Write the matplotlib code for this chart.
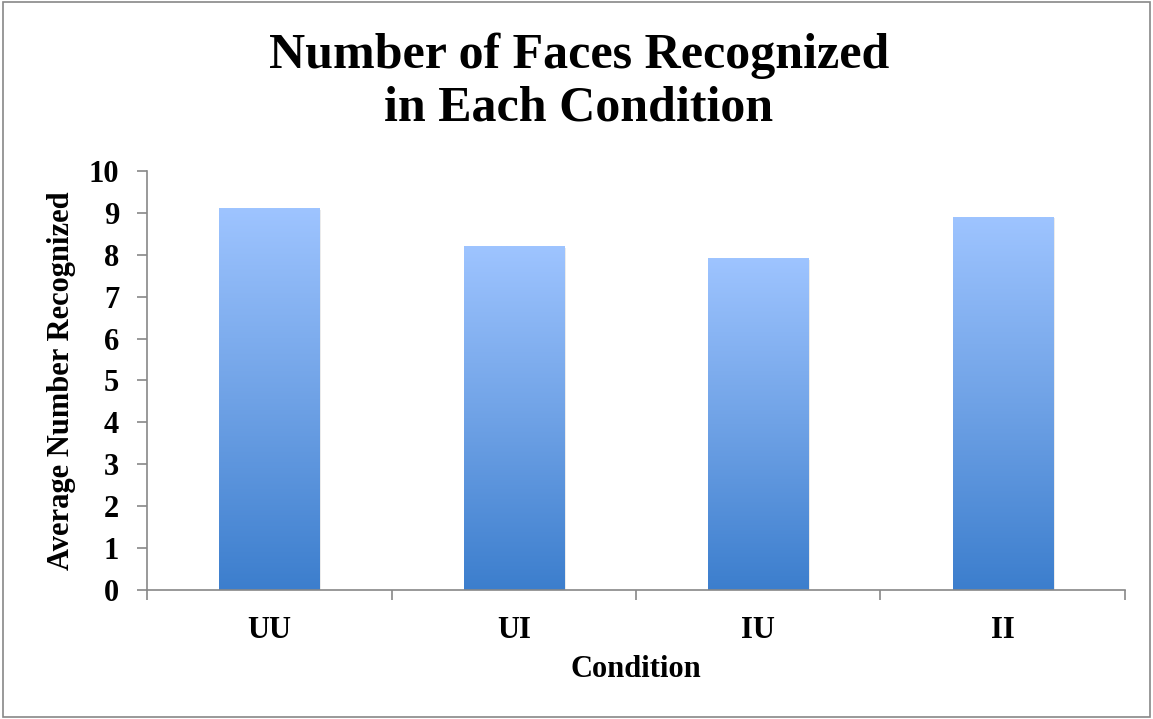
import numpy as np
import matplotlib.pyplot as plt
from matplotlib.colors import LinearSegmentedColormap
from matplotlib.patches import Rectangle

conditions = ["UU", "UI", "IU", "II"]
avg_recognized = [9.1, 8.2, 7.9, 8.9]

plt.rcParams['font.family'] = ['Liberation Serif', 'DejaVu Serif']
plt.rcParams['font.weight'] = 'bold'
plt.rcParams['axes.labelweight'] = 'bold'

fig = plt.figure(figsize=(11.53, 7.19), dpi=100)
ax = fig.add_axes([0.1275, 0.1794, 0.8482, 0.5828])

cmap = LinearSegmentedColormap.from_list("bluegrad", ["#3C7ECD", "#6FA2E6", "#9EC4FF"])
grad = np.linspace(0, 1, 256).reshape(-1, 1)
x = np.arange(len(conditions))
width = 0.41
bars = ax.bar(x, avg_recognized, width, color='none', zorder=2)
for b in bars:
    x0, h = b.get_x(), b.get_height()
    # soft shadow
    ax.add_patch(Rectangle((x0 + 0.008, 0), width, h - 0.03, color='#000000', alpha=0.08, lw=0, zorder=1))
    ax.imshow(grad, cmap=cmap, origin='lower', aspect='auto',
              extent=(x0, x0 + width, 0, h), vmin=0, vmax=1, zorder=2)

ax.set_xlim(-0.5, len(conditions) - 0.5)
ax.set_ylim(0, 10)
ax.set_yticks(range(0, 11))
ax.set_xticks(x)
ax.set_xticklabels(conditions)
ax.set_xticks(np.arange(-0.5, len(conditions)), minor=True)
ax.tick_params(axis='x', which='major', length=0, pad=19, labelsize=22)
ax.tick_params(axis='x', which='minor', length=7, color='#888888', width=1.2)
ax.tick_params(axis='y', length=7, color='#888888', width=1.2, pad=13, labelsize=22)
for s in ['top', 'right']:
    ax.spines[s].set_visible(False)
for s in ['left', 'bottom']:
    ax.spines[s].set_color('#888888')
    ax.spines[s].set_linewidth(1.2)

ax.set_xlabel("Condition", fontsize=22, labelpad=7)
ax.set_ylabel("Average Number Recognized", fontsize=22, labelpad=9)
fig.text(0.502, 0.886, "Number of Faces Recognized\nin Each Condition", ha='center', va='center',
         fontsize=36, linespacing=1.16)

fig.patches.append(Rectangle((0.003, 0.003), 0.994, 0.994, transform=fig.transFigure,
                             fill=False, edgecolor='#888888', lw=1.2))

fig.savefig("out.png", dpi=100)
